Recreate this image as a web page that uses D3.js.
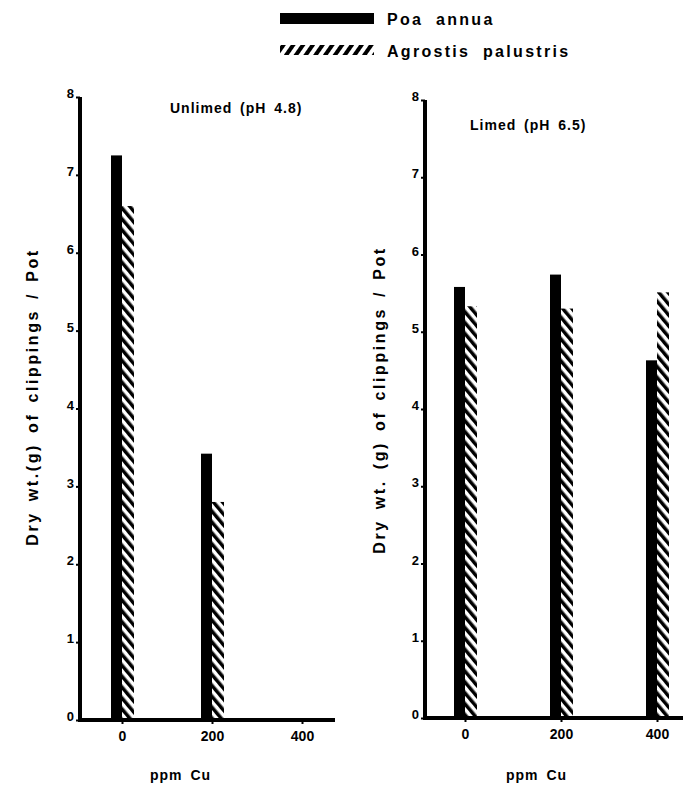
<!DOCTYPE html>
<html>
<head>
<meta charset="utf-8">
<script src="https://cdn.jsdelivr.net/npm/d3@7"></script>
<style>
  body { margin: 0; background: #fff; }
  text { font-family: "Liberation Sans", Arial, sans-serif; font-weight: bold; fill: #000; }
</style>
</head>
<body>
<svg id="chart" width="691" height="786"></svg>
<script>
const doses = [0, 200, 400]
const seriesNames = ["Poa annua", "Agrostis palustris"]
const yTicks = [0, 1, 2, 3, 4, 5, 6, 7, 8]
const xTicks = [0, 200, 400]

const unlimedPoa = [7.25, 3.42, 0]
const unlimedAgrostis = [6.6, 2.8, 0]
const limedPoa = [5.58, 5.74, 4.63]
const limedAgrostis = [5.33, 5.3, 5.51]

const panels = [
    { title: "Unlimed (pH 4.8)", poa: unlimedPoa, agrostis: unlimedAgrostis,
      axisX: 80, axisEnd: 335, top: 97, zero: 720, xRange: [122, 302],
      titleX: 170, titleY: 113, labelX: 38, labelY: 397, xTitleX: 150,
      yLabel: "Dry wt.(g) of clippings / Pot" },
    { title: "Limed (pH 6.5)", poa: limedPoa, agrostis: limedAgrostis,
      axisX: 425, axisEnd: 683, top: 100, zero: 718, xRange: [465, 657],
      titleX: 470, titleY: 130, labelX: 385, labelY: 400, xTitleX: 506,
      yLabel: "Dry wt. (g) of clippings / Pot" }
]

const barW = 11

const svg = d3.select("#chart")

// hatch fills: bars lean "\" and the legend swatch leans "/"
const defs = svg.append("defs")
const pat = defs.append("pattern")
    .attr("id", "hatch")
    .attr("patternUnits", "userSpaceOnUse")
    .attr("width", 7).attr("height", 7)
    .attr("patternTransform", "rotate(-40)")
pat.append("rect").attr("width", 7).attr("height", 7).attr("fill", "#fff")
pat.append("rect").attr("width", 3.5).attr("height", 7).attr("fill", "#000")

const patL = defs.append("pattern")
    .attr("id", "hatchLegend")
    .attr("patternUnits", "userSpaceOnUse")
    .attr("width", 8).attr("height", 8)
    .attr("patternTransform", "rotate(35)")
patL.append("rect").attr("width", 8).attr("height", 8).attr("fill", "#fff")
patL.append("rect").attr("width", 4).attr("height", 8).attr("fill", "#000")

panels.forEach(p => {
    const g = svg.append("g")
    const y = d3.scaleLinear().domain([0, 8]).range([p.zero, p.top])
    const x = d3.scaleLinear().domain([0, 400]).range(p.xRange)

    // bars
    g.selectAll(".poa").data(doses).join("rect")
        .attr("x", d => x(d) - barW)
        .attr("y", (d, i) => y(p.poa[i]))
        .attr("width", barW)
        .attr("height", (d, i) => y(0) - y(p.poa[i]))
        .attr("fill", "#000")
    g.selectAll(".agr").data(doses).join("rect")
        .attr("x", d => x(d))
        .attr("y", (d, i) => y(p.agrostis[i]))
        .attr("width", barW + 1)
        .attr("height", (d, i) => y(0) - y(p.agrostis[i]))
        .attr("fill", "url(#hatch)")

    // y axis
    const yAxis = g.append("g")
        .attr("transform", `translate(${p.axisX},0)`)
        .call(d3.axisLeft(y).tickValues(yTicks).tickSize(4).tickPadding(2).tickFormat(d3.format("d")))
    yAxis.select(".domain").attr("stroke-width", 4).attr("d", `M0,${p.top}V${p.zero}`)
    yAxis.selectAll(".tick line").attr("stroke-width", 2)
    yAxis.selectAll(".tick text").attr("font-size", 13).attr("font-family", "Liberation Sans")
        .attr("font-weight", "bold").attr("dy", "0.05em")

    // x axis
    const xAxis = g.append("g")
        .attr("transform", `translate(0,${p.zero})`)
        .call(d3.axisBottom(x).tickValues(xTicks).tickSize(4).tickPadding(7).tickFormat(d3.format("d")))
    xAxis.select(".domain").attr("stroke-width", 4).attr("d", `M${p.axisX - 2},0H${p.axisEnd}`)
    xAxis.selectAll(".tick line").attr("stroke-width", 2)
    xAxis.selectAll(".tick text").attr("font-size", 14).attr("font-family", "Liberation Sans")
        .attr("font-weight", "bold")

    // titles
    g.append("text").attr("x", p.titleX).attr("y", p.titleY)
        .attr("font-size", 14).attr("letter-spacing", 1).attr("word-spacing", 3)
        .text(p.title)
    g.append("text")
        .attr("transform", `translate(${p.labelX},${p.labelY}) rotate(-90)`)
        .attr("text-anchor", "middle").attr("font-size", 16)
        .attr("letter-spacing", 2.6).attr("word-spacing", 3)
        .text(p.yLabel)
    g.append("text").attr("x", p.xTitleX).attr("y", 780)
        .attr("font-size", 14).attr("letter-spacing", 1).attr("word-spacing", 3)
        .text("ppm Cu")
})

// legend
const legend = svg.append("g")
legend.append("rect").attr("x", 280).attr("y", 13).attr("width", 94).attr("height", 11).attr("fill", "#000")
legend.append("rect").attr("x", 280).attr("y", 45).attr("width", 94).attr("height", 10).attr("fill", "url(#hatchLegend)")
legend.selectAll(".lt").data(seriesNames).join("text")
    .attr("x", 387).attr("y", (d, i) => 25 + i * 32)
    .attr("font-size", 16).attr("letter-spacing", 2.3).attr("word-spacing", 6)
    .text(d => d)
</script>
</body>
</html>
